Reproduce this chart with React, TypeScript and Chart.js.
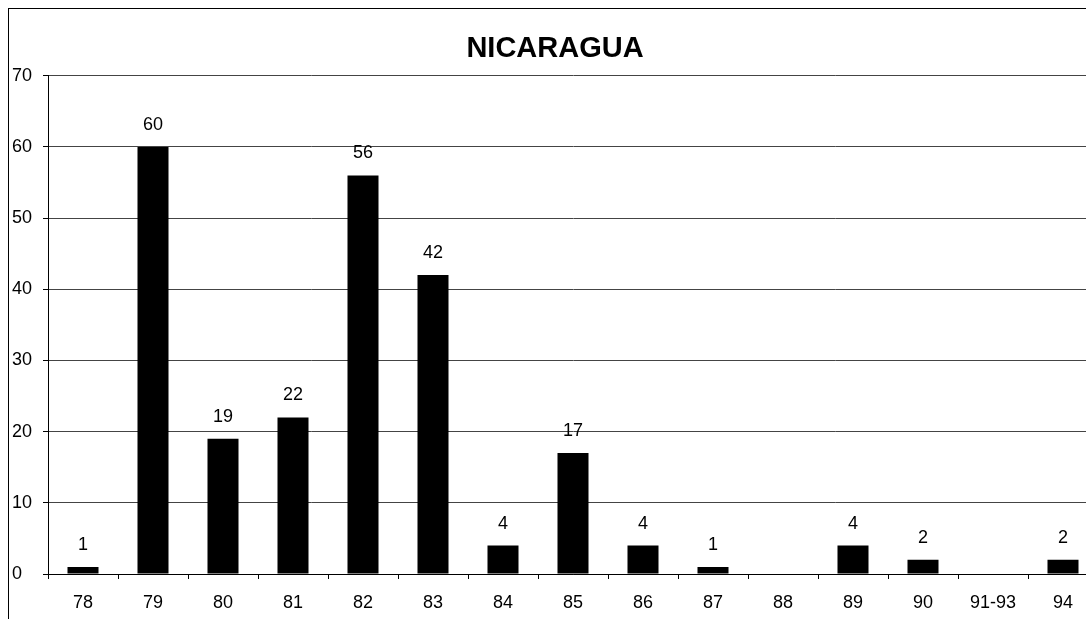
import React, { useEffect, useRef } from "react";
import { Chart, registerables } from "chart.js";

Chart.register(...registerables);

const categories = ["78", "79", "80", "81", "82", "83", "84", "85", "86", "87", "88", "89", "90", "91-93", "94"];
const values = [1, 60, 19, 22, 56, 42, 4, 17, 4, 1, 0, 4, 2, 0, 2];
const chartTitle = "NICARAGUA";
const yMin = 0;
const yMax = 70;
const yStep = 10;

const FONT = "'Liberation Sans', Arial, Helvetica, sans-serif";

const valueLabels = {
  id: "valueLabels",
  afterDatasetsDraw(chart: any) {
    const ctx = chart.ctx;
    const meta = chart.getDatasetMeta(0);
    const data = chart.data.datasets[0].data as number[];
    ctx.save();
    ctx.font = `18px ${FONT}`;
    ctx.fillStyle = "#000";
    ctx.textAlign = "center";
    ctx.textBaseline = "alphabetic";
    meta.data.forEach((el: any, i: number) => {
      const v = data[i];
      if (!v) return;
      ctx.fillText(String(v), el.x, el.y - 17);
    });
    ctx.restore();
  },
};

export default function App() {
  const ref = useRef<HTMLCanvasElement | null>(null);
  useEffect(() => {
    if (!ref.current) return;
    const chart = new Chart(ref.current, {
      type: "bar",
      data: {
        labels: categories,
        datasets: [
          {
            data: values,
            backgroundColor: "#000",
            borderWidth: 0,
            barPercentage: 0.443,
            categoryPercentage: 1,
          },
        ],
      },
      options: {
        animation: false,
        responsive: true,
        maintainAspectRatio: false,
        layout: { padding: { left: 3, right: 11, top: 0, bottom: 15 } },
        plugins: {
          legend: { display: false },
          tooltip: { enabled: false },
          title: {
            display: true,
            text: chartTitle,
            color: "#000",
            font: { family: FONT, size: 29, weight: "bold" },
            padding: { top: 23, bottom: 9 },
          },
        },
        scales: {
          x: {
            grid: {
              offset: true,
              drawOnChartArea: false,
              drawTicks: true,
              tickLength: 5,
              color: "#000",
            },
            border: { color: "#000", width: 1 },
            ticks: {
              color: "#000",
              font: { family: FONT, size: 18 },
              padding: 13,
              maxRotation: 0,
              autoSkip: false,
            },
            afterFit: (axis: any) => {
              axis.height = 40;
            },
          },
          y: {
            min: yMin,
            max: yMax,
            grid: {
              color: (c: any) => (c.tick && c.tick.value === 0 ? "#000" : "#444"),
              tickColor: "#000",
              tickLength: 5,
            },
            border: { color: "#000", width: 1 },
            ticks: {
              stepSize: yStep,
              color: "#000",
              font: { family: FONT, size: 18 },
              crossAlign: "far",
            },
            afterFit: (axis: any) => {
              axis.width = 36;
            },
          },
        },
      },
      plugins: [valueLabels],
    });
    return () => chart.destroy();
  }, []);

  return (
    <div style={{ position: "fixed", left: 0, top: 0, width: "100vw", height: "100vh", overflow: "hidden", background: "#fff" }}>
      <div
        style={{
          position: "absolute",
          left: 8,
          top: 8,
          width: 1100,
          height: 620,
          border: "1px solid #000",
        }}
      >
        <div style={{ position: "relative", width: 1100, height: 620 }}>
          <canvas ref={ref} />
        </div>
      </div>
    </div>
  );
}
